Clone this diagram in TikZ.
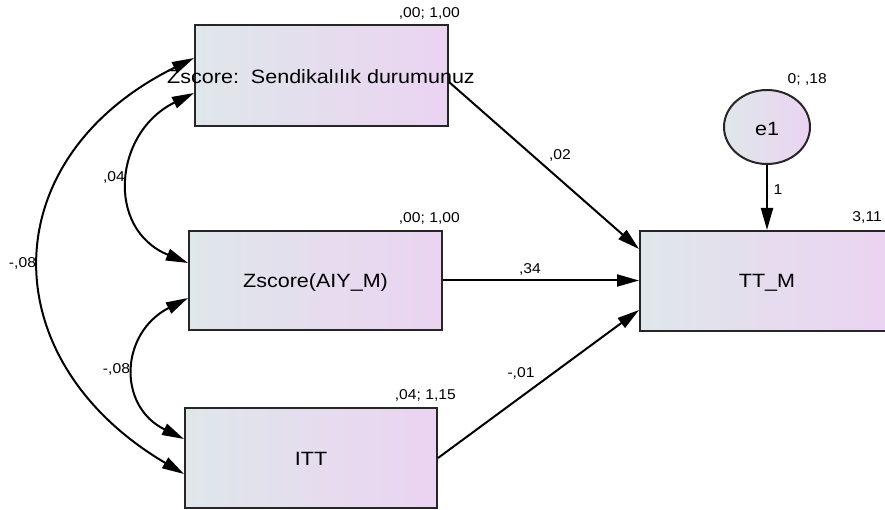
\documentclass[tikz,border=0pt]{standalone}
\usepackage{fontspec}
\setmainfont{Liberation Sans}
\newfontfamily\boxfont[FakeStretch=1.12]{Liberation Sans}
\newfontfamily\lblfont[FakeStretch=1.1]{Liberation Sans}
\usetikzlibrary{arrows.meta,calc,shapes.geometric}
\definecolor{gl}{HTML}{DFE7EA}
\definecolor{gr}{HTML}{EBD3F2}
\tikzset{
  var/.style={draw=black!85, line width=2bp, left color=gl, right color=gr, inner sep=0pt},
  lat/.style={draw=black!85, line width=2bp, ellipse, left color=gl, right color=gr, inner sep=0pt,
              minimum width=86bp, minimum height=74bp},
  btxt/.style={font=\boxfont\fontsize{19.3}{22}\selectfont, inner sep=0pt},
  lbl/.style={font=\lblfont\fontsize{14.3}{16}\selectfont, inner sep=0pt},
  reg/.style={line width=2bp, -{Triangle[length=22bp,width=12bp]}},
  cov/.style={line width=2bp, {Triangle[length=22bp,width=12bp]}-{Triangle[length=22bp,width=12bp]}},
}
\begin{document}
\begin{tikzpicture}[x=1bp,y=-1bp]
\useasboundingbox (0,0) rectangle (885,510);
% boxes
\node[var, minimum width=253bp, minimum height=101bp] (b1) at (321.5,75.5) {};
\node[var, minimum width=253bp, minimum height=99bp] (b2) at (315.5,280.5) {};
\node[var, minimum width=252bp, minimum height=100bp] (itt) at (311,458) {};
\node[var, minimum width=247bp, minimum height=100bp] (tt) at (763.5,281) {};
\node[lat] (e1) at (767,127) {};
% box texts
\node[btxt] (t1) at (321,77) {Zscore:\ \ Sendikalılık durumunuz};
\node[btxt] (t2) at (315.5,283) {Zscore(AIY\_M)};
\node[btxt] (t3) at (311,459) {ITT};
\node[btxt] (t4) at (767,283) {TT\_M};
\node[btxt] (t5) at (767,129) {e1};
% estimates
\node[lbl, anchor=base east] (l1) at (460,18) {,00; 1,00};
\node[lbl, anchor=base east] (l2) at (460,223) {,00; 1,00};
\node[lbl, anchor=base east] (l3) at (456,399) {,04; 1,15};
\node[lbl, anchor=base east] (l4) at (882,222) {3,11};
\node[lbl, anchor=base east] (l5) at (827,84) {0; ,18};
% regression paths
\draw[reg] ($(b1.north east)+(0,58)$) -- ($(tt.north west)+(0,19)$);
\draw[reg] (b2.east) -- (b2.east -| tt.west);
\draw[reg] (itt.east) -- ($(tt.south west)+(0,-22)$);
\draw[reg] (e1.south) -- (e1.south |- tt.north);
\node[lbl, anchor=base] (p1) at (560,160) {,02};
\node[lbl, anchor=base] (p2) at (530,274) {,34};
\node[lbl, anchor=base] (p3) at (521,377) {-,01};
\node[lbl, anchor=base] (p4) at (778,195) {1};
% covariances
\draw[cov] ($(b1.north west)+(0,34)$) .. controls (-8,158) and (-9,360) .. ($(itt.north west)+(0,67)$);
\draw[cov] ($(b1.north west)+(0,69)$) .. controls (114,132) and (105,229) .. ($(b2.north west)+(0,33)$);
\draw[cov] ($(b2.north west)+(0,68)$) .. controls (120,333) and (117,406) .. ($(itt.north west)+(0,32)$);
\node[lbl, anchor=base] (c1) at (114,182) {,04};
\node[lbl, anchor=base] (c2) at (116.5,373) {-,08};
\node[lbl, anchor=base] (c3) at (22.5,268) {-,08};
\end{tikzpicture}
\end{document}
